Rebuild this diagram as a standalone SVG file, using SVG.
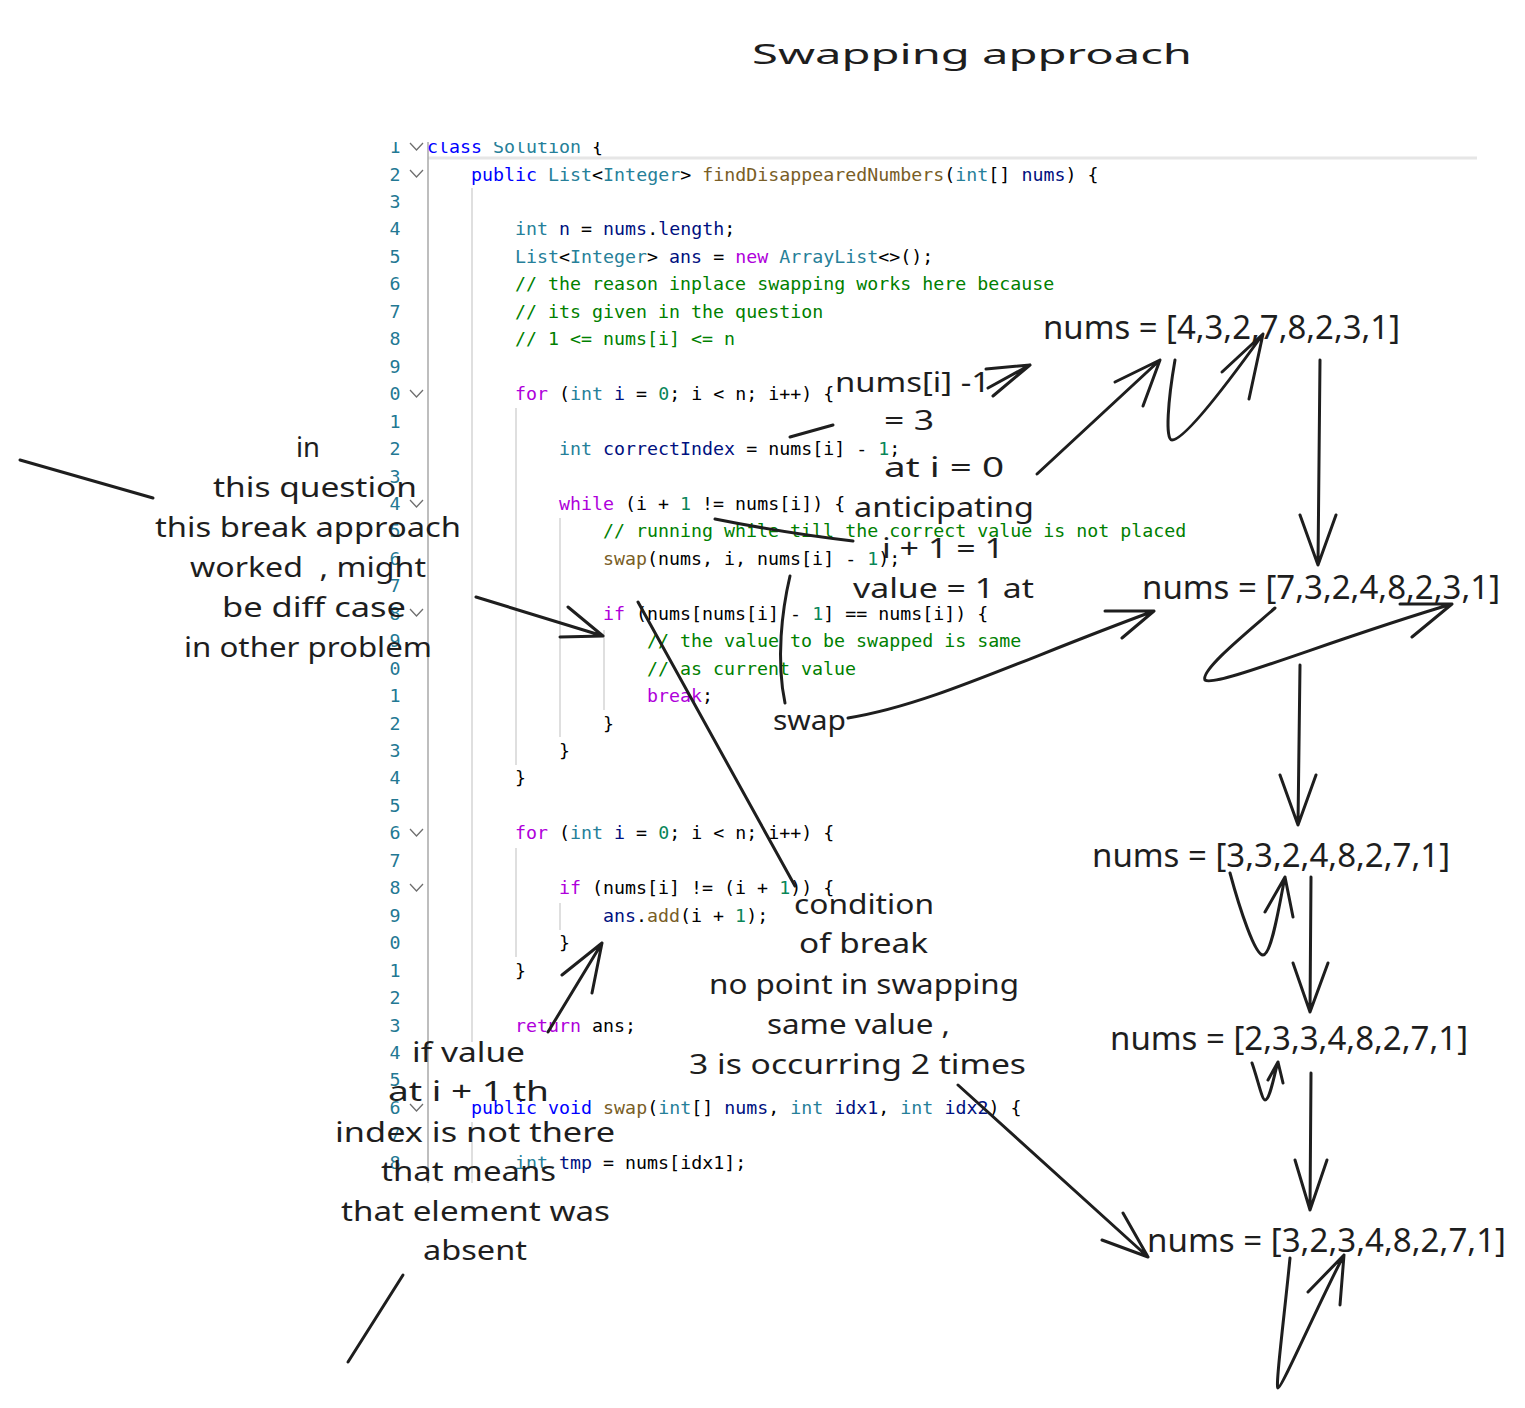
<svg xmlns="http://www.w3.org/2000/svg" width="1525" height="1408" viewBox="0 0 1525 1408">
<defs>
<style>
.code{font-family:"DejaVu Sans Mono","Liberation Mono",monospace;font-size:18.3px;fill:#000000;white-space:pre}
.ln{font-family:"DejaVu Sans Mono","Liberation Mono",monospace;font-size:18.3px;fill:#237893;text-anchor:middle}
.kw{fill:#0000ff}.ty{fill:#267f99}.ct{fill:#af00db}.fn{fill:#795e26}.va{fill:#001080}.nu{fill:#098658}.cm{fill:#008000}
.hw{font-family:"Noto Sans",sans-serif;font-size:28px;fill:#1e1e1e}
.arr{font-family:"Noto Sans",sans-serif;font-size:33px;fill:#1e1e1e}
.guide{stroke:#d4d4d4;stroke-width:1.5}
.chev{fill:none;stroke:#6e6e6e;stroke-width:1.3}
.c{fill:none;stroke:#1e1e1e;stroke-width:3;stroke-linecap:round;stroke-linejoin:round}
</style>
<clipPath id="codeclip"><rect x="380" y="142" width="1100" height="1041"/></clipPath>
</defs>
<rect width="1525" height="1408" fill="#ffffff"/>

<g id="title"><text class="hw" x="752" y="64" font-size="46" textLength="440" lengthAdjust="spacingAndGlyphs">Swapping approach</text></g>

<g id="code" clip-path="url(#codeclip)" xml:space="preserve">
<line x1="428" y1="158" x2="1477" y2="158" stroke="#e6e6e6" stroke-width="3"/>
<line x1="428" y1="140" x2="428" y2="1185" stroke="#a8a8a8" stroke-width="1.5"/>
<line class="guide" x1="472" y1="188" x2="472" y2="1042"/>
<line class="guide" x1="472" y1="1122" x2="472" y2="1185"/>
<line class="guide" x1="516" y1="408" x2="516" y2="765"/>
<line class="guide" x1="516" y1="848" x2="516" y2="957"/>
<line class="guide" x1="560" y1="518" x2="560" y2="737"/>
<line class="guide" x1="560" y1="903" x2="560" y2="930"/>
<line class="guide" x1="604" y1="630" x2="604" y2="710"/>
<g>
<text class="ln" x="395" y="153">1</text><text class="ln" x="395" y="180.5">2</text><text class="ln" x="395" y="208">3</text><text class="ln" x="395" y="235.4">4</text><text class="ln" x="395" y="262.9">5</text><text class="ln" x="395" y="290.3">6</text><text class="ln" x="395" y="317.8">7</text><text class="ln" x="395" y="345.2">8</text><text class="ln" x="395" y="372.7">9</text><text class="ln" x="395" y="400.1">0</text><text class="ln" x="395" y="427.6">1</text><text class="ln" x="395" y="455">2</text><text class="ln" x="395" y="482.5">3</text><text class="ln" x="395" y="509.9">4</text><text class="ln" x="395" y="537.4">5</text><text class="ln" x="395" y="564.8">6</text><text class="ln" x="395" y="592.3">7</text><text class="ln" x="395" y="619.7">8</text><text class="ln" x="395" y="647.2">9</text><text class="ln" x="395" y="674.6">0</text><text class="ln" x="395" y="702">1</text><text class="ln" x="395" y="729.5">2</text><text class="ln" x="395" y="757">3</text><text class="ln" x="395" y="784.4">4</text><text class="ln" x="395" y="811.9">5</text><text class="ln" x="395" y="839.3">6</text><text class="ln" x="395" y="866.8">7</text><text class="ln" x="395" y="894.2">8</text><text class="ln" x="395" y="921.7">9</text><text class="ln" x="395" y="949.1">0</text><text class="ln" x="395" y="976.6">1</text><text class="ln" x="395" y="1004">2</text><text class="ln" x="395" y="1031.5">3</text><text class="ln" x="395" y="1058.9">4</text><text class="ln" x="395" y="1086.4">5</text><text class="ln" x="395" y="1113.8">6</text><text class="ln" x="395" y="1141.3">7</text><text class="ln" x="395" y="1168.7">8</text>
</g>
<polyline class="chev" points="410,143 416.5,150 423,143"/>
<polyline class="chev" points="410,170 416.5,177 423,170"/>
<polyline class="chev" points="410,390 416.5,397 423,390"/>
<polyline class="chev" points="410,500 416.5,507 423,500"/>
<polyline class="chev" points="410,609 416.5,616 423,609"/>
<polyline class="chev" points="410,829 416.5,836 423,829"/>
<polyline class="chev" points="410,884 416.5,891 423,884"/>
<polyline class="chev" points="410,1104 416.5,1111 423,1104"/>
<text class="code" x="427" y="153"><tspan class="kw">class</tspan> <tspan class="ty">Solution</tspan> {</text>
<text class="code" x="471" y="180.5"><tspan class="kw">public</tspan> <tspan class="ty">List</tspan>&lt;<tspan class="ty">Integer</tspan>&gt; <tspan class="fn">findDisappearedNumbers</tspan>(<tspan class="ty">int</tspan>[] <tspan class="va">nums</tspan>) {</text>
<text class="code" x="515" y="235.4"><tspan class="ty">int</tspan> <tspan class="va">n</tspan> = <tspan class="va">nums</tspan>.<tspan class="va">length</tspan>;</text>
<text class="code" x="515" y="262.9"><tspan class="ty">List</tspan>&lt;<tspan class="ty">Integer</tspan>&gt; <tspan class="va">ans</tspan> = <tspan class="ct">new</tspan> <tspan class="ty">ArrayList</tspan>&lt;&gt;();</text>
<text class="code cm" x="515" y="290.3">// the reason inplace swapping works here because</text>
<text class="code cm" x="515" y="317.8">// its given in the question</text>
<text class="code cm" x="515" y="345.2">// 1 &lt;= nums[i] &lt;= n</text>
<text class="code" x="515" y="400.1"><tspan class="ct">for</tspan> (<tspan class="ty">int</tspan> <tspan class="va">i</tspan> = <tspan class="nu">0</tspan>; i &lt; n; i++) {</text>
<text class="code" x="559" y="455"><tspan class="ty">int</tspan> <tspan class="va">correctIndex</tspan> = nums[i] - <tspan class="nu">1</tspan>;</text>
<text class="code" x="559" y="509.9"><tspan class="ct">while</tspan> (i + <tspan class="nu">1</tspan> != nums[i]) {</text>
<text class="code cm" x="603" y="537.4">// running while till the correct value is not placed</text>
<text class="code" x="603" y="564.8"><tspan class="fn">swap</tspan>(nums, i, nums[i] - <tspan class="nu">1</tspan>);</text>
<text class="code" x="603" y="619.7"><tspan class="ct">if</tspan> (nums[nums[i] - <tspan class="nu">1</tspan>] == nums[i]) {</text>
<text class="code cm" x="647" y="647.2">// the value to be swapped is same</text>
<text class="code cm" x="647" y="674.6">// as current value</text>
<text class="code" x="647" y="702"><tspan class="ct">break</tspan>;</text>
<text class="code" x="603" y="729.5">}</text>
<text class="code" x="559" y="757">}</text>
<text class="code" x="515" y="784.4">}</text>
<text class="code" x="515" y="839.3"><tspan class="ct">for</tspan> (<tspan class="ty">int</tspan> <tspan class="va">i</tspan> = <tspan class="nu">0</tspan>; i &lt; n; i++) {</text>
<text class="code" x="559" y="894.2"><tspan class="ct">if</tspan> (nums[i] != (i + <tspan class="nu">1</tspan>)) {</text>
<text class="code" x="603" y="921.7"><tspan class="va">ans</tspan>.<tspan class="fn">add</tspan>(i + <tspan class="nu">1</tspan>);</text>
<text class="code" x="559" y="949.1">}</text>
<text class="code" x="515" y="976.6">}</text>
<text class="code" x="515" y="1031.5"><tspan class="ct">return</tspan> ans;</text>
<text class="code" x="471" y="1113.8"><tspan class="kw">public</tspan> <tspan class="kw">void</tspan> <tspan class="fn">swap</tspan>(<tspan class="ty">int</tspan>[] <tspan class="va">nums</tspan>, <tspan class="ty">int</tspan> <tspan class="va">idx1</tspan>, <tspan class="ty">int</tspan> <tspan class="va">idx2</tspan>) {</text>
<text class="code" x="515" y="1168.7"><tspan class="ty">int</tspan> <tspan class="va">tmp</tspan> = nums[idx1];</text>
</g>

<g id="note-break-approach">
<text class="hw" x="296" y="457" textLength="24" lengthAdjust="spacingAndGlyphs">in</text>
<text class="hw" x="213" y="497" textLength="204" lengthAdjust="spacingAndGlyphs">this question</text>
<text class="hw" x="155" y="537" textLength="306" lengthAdjust="spacingAndGlyphs">this break approach</text>
<text class="hw" x="190" y="577" textLength="236" lengthAdjust="spacingAndGlyphs" xml:space="preserve">worked  , might</text>
<text class="hw" x="222" y="617" textLength="184" lengthAdjust="spacingAndGlyphs">be diff case</text>
<text class="hw" x="184" y="657" textLength="248" lengthAdjust="spacingAndGlyphs">in other problem</text>
</g>
<g id="note-index">
<text class="hw" x="835" y="392" textLength="155" lengthAdjust="spacingAndGlyphs">nums[i] -1</text>
<text class="hw" x="884" y="430" textLength="50" lengthAdjust="spacingAndGlyphs">= 3</text>
</g>
<g id="note-anticipating">
<text class="hw" x="884" y="477" textLength="120" lengthAdjust="spacingAndGlyphs">at i = 0</text>
<text class="hw" x="854" y="517" textLength="180" lengthAdjust="spacingAndGlyphs">anticipating</text>
<text class="hw" x="882" y="558" textLength="122" lengthAdjust="spacingAndGlyphs">i + 1 = 1</text>
<text class="hw" x="853" y="598" textLength="181" lengthAdjust="spacingAndGlyphs">value = 1 at</text>
</g>
<g id="note-swap"><text class="hw" x="773" y="730" textLength="73" lengthAdjust="spacingAndGlyphs">swap</text></g>
<g id="note-condition">
<text class="hw" x="794" y="914" textLength="140" lengthAdjust="spacingAndGlyphs">condition</text>
<text class="hw" x="799" y="953" textLength="129" lengthAdjust="spacingAndGlyphs">of break</text>
<text class="hw" x="709" y="994" textLength="310" lengthAdjust="spacingAndGlyphs">no point in swapping</text>
<text class="hw" x="767" y="1034" textLength="183" lengthAdjust="spacingAndGlyphs">same value ,</text>
<text class="hw" x="689" y="1074" textLength="337" lengthAdjust="spacingAndGlyphs">3 is occurring 2 times</text>
</g>
<g id="note-absent">
<text class="hw" x="412" y="1062" textLength="113" lengthAdjust="spacingAndGlyphs">if value</text>
<text class="hw" x="388" y="1101" textLength="161" lengthAdjust="spacingAndGlyphs">at i + 1 th</text>
<text class="hw" x="335" y="1142" textLength="280" lengthAdjust="spacingAndGlyphs">index is not there</text>
<text class="hw" x="381" y="1181" textLength="175" lengthAdjust="spacingAndGlyphs">that means</text>
<text class="hw" x="341" y="1221" textLength="269" lengthAdjust="spacingAndGlyphs">that element was</text>
<text class="hw" x="423" y="1260" textLength="104" lengthAdjust="spacingAndGlyphs">absent</text>
</g>
<g id="array-1"><text class="arr" x="1043" y="339" textLength="357" lengthAdjust="spacingAndGlyphs">nums = [4,3,2,7,8,2,3,1]</text></g>
<g id="array-2"><text class="arr" x="1142" y="599" textLength="358" lengthAdjust="spacingAndGlyphs">nums = [7,3,2,4,8,2,3,1]</text></g>
<g id="array-3"><text class="arr" x="1092" y="867" textLength="358" lengthAdjust="spacingAndGlyphs">nums = [3,3,2,4,8,2,7,1]</text></g>
<g id="array-4"><text class="arr" x="1110" y="1050" textLength="358" lengthAdjust="spacingAndGlyphs">nums = [2,3,3,4,8,2,7,1]</text></g>
<g id="array-5"><text class="arr" x="1147" y="1252" textLength="359" lengthAdjust="spacingAndGlyphs">nums = [3,2,3,4,8,2,7,1]</text></g>

<g id="connectors">
<path class="c" d="M20 460 L153 498"/>
<path class="c" d="M476 597 L603 636 M568 607 L603 636 L560 637"/>
<path class="c" d="M790 437 L833 425"/>
<path class="c" d="M988 388 L1030 365 M986 369 L1030 365 L993 396"/>
<path class="c" d="M1037 474 L1160 360 M1115 382 L1160 360 L1143 406"/>
<path class="c" d="M1175 360 C1168 400 1165 440 1172 440 C1185 440 1230 380 1263 334 M1222 372 L1263 334 L1249 399"/>
<path class="c" d="M1320 360 L1318 565 M1300 515 L1318 565 L1336 515"/>
<path class="c" d="M715 519 C760 528 810 536 853 541"/>
<path class="c" d="M790 576 C782 610 776 660 785 703"/>
<path class="c" d="M848 718 C930 705 1020 660 1154 611 M1105 611 L1154 611 L1122 638"/>
<path class="c" d="M1275 608 C1250 630 1200 670 1205 680 C1215 688 1330 640 1452 604 M1400 604 L1452 604 L1412 637"/>
<path class="c" d="M1300 665 L1298 825 M1280 775 L1298 825 L1316 775"/>
<path class="c" d="M638 602 L795 886"/>
<path class="c" d="M548 1032 L602 943 M562 975 L602 943 L592 993"/>
<path class="c" d="M403 1275 L348 1362"/>
<path class="c" d="M958 1085 L1148 1257 M1102 1240 L1148 1257 L1123 1213"/>
<path class="c" d="M1230 873 C1240 910 1255 955 1263 955 C1272 955 1280 900 1285 877 M1265 912 L1285 877 L1293 917"/>
<path class="c" d="M1311 877 L1310 1012 M1293 963 L1310 1012 L1328 963"/>
<path class="c" d="M1252 1063 C1258 1080 1262 1100 1265 1100 C1270 1100 1274 1075 1278 1062 M1268 1080 L1278 1062 L1283 1083"/>
<path class="c" d="M1311 1073 L1310 1210 M1295 1160 L1310 1210 L1327 1160"/>
<path class="c" d="M1290 1258 C1285 1310 1275 1388 1278 1388 C1282 1388 1320 1300 1344 1255 M1308 1292 L1344 1255 L1340 1305"/>
</g>
</svg>
